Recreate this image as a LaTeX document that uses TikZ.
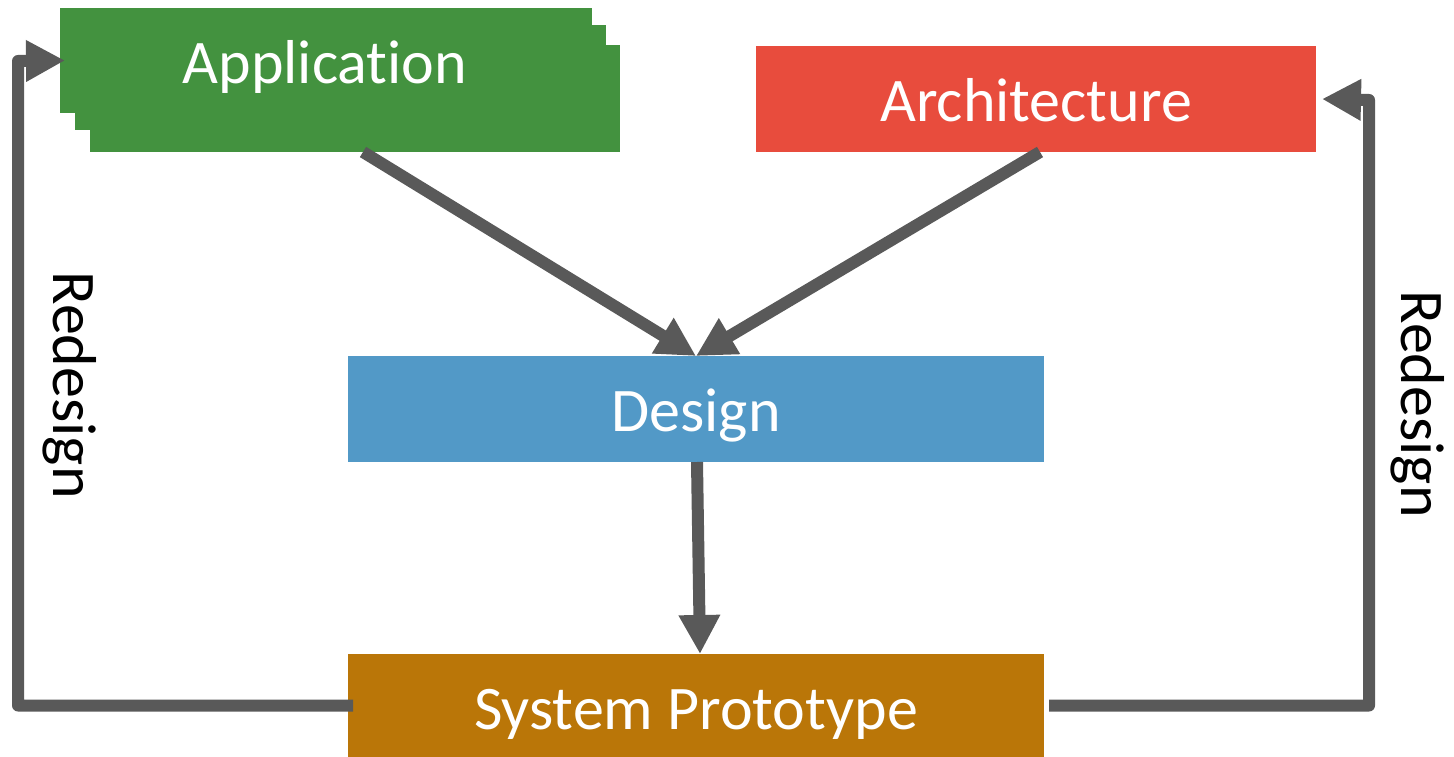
\documentclass[tikz,border=0pt]{standalone}
\usepackage{fontspec}
\setmainfont[Ligatures={NoCommon}]{Carlito}
\usetikzlibrary{arrows.meta}
\definecolor{appgreen}{RGB}{67,146,63}
\definecolor{archred}{RGB}{232,76,61}
\definecolor{designblue}{RGB}{82,153,199}
\definecolor{protoorange}{RGB}{186,118,8}
\definecolor{flowgray}{RGB}{89,89,89}
\begin{document}
\begin{tikzpicture}[x=1pt,y=-1pt,
  block/.style={inner sep=0pt, outer sep=0pt, text=white,
    font=\fontsize{62}{74}\selectfont},
  flow/.style={draw=flowgray, line width=12pt, line join=round,
    -{Triangle[length=39pt,width=39pt]}},
  looplabel/.style={font=\fontsize{62}{74}\selectfont, rotate=-90}]
\useasboundingbox (0,0) rectangle (1454,757);
% stacked Application sheets, back to front
\node[block, fill=appgreen, minimum width=530pt, minimum height=107pt] (app3) at (355,98.5) {};
\node[block, fill=appgreen, minimum width=531pt, minimum height=105pt] (app2) at (340.5,77.5) {};
\node[block, fill=appgreen, minimum width=532pt, minimum height=105pt] (app1) at (326,60.5) {};
% the kern keeps the t and i as separate letters
\node[block, anchor=base] (apptext) at (325,84) {Applicat\kern0pt ion};
% the other blocks
\node[block, fill=archred, minimum width=560pt, minimum height=106pt] (arch) at (1036,99) {};
\node[block, anchor=base] (archtext) at (1036,122) {Architecture};
\node[block, fill=designblue, minimum width=696pt, minimum height=106pt] (design) at (696,409) {};
\node[block, anchor=base] (designtext) at (696,431) {Design};
\node[block, fill=protoorange, minimum width=696pt, minimum height=103pt] (sys) at (696,705.5) {};
\node[block, anchor=base] (systext) at (696,729) {System Prototype};
% loop corners
\coordinate (lc) at (18,61);
\coordinate (rc) at (1369,100);
% connectors
\draw[flow] ([xshift=8pt]app3.south) -- (design.north);
\draw[flow] ([xshift=4pt]arch.south) -- (design.north);
\draw[flow] ([xshift=1pt]design.south) -- ([xshift=4pt]sys.north);
\draw[flow] ([xshift=5pt]sys.west) -| (lc) -- ([xshift=5pt]app1.west);
\draw[flow] ([xshift=5pt]sys.east) -| (rc) -- ([xshift=6pt]arch.east);
% loop labels
\node[looplabel] (redesignL) at (70,385) {Redesign};
\node[looplabel] (redesignR) at (1418,404) {Redesign};
\end{tikzpicture}
\end{document}
